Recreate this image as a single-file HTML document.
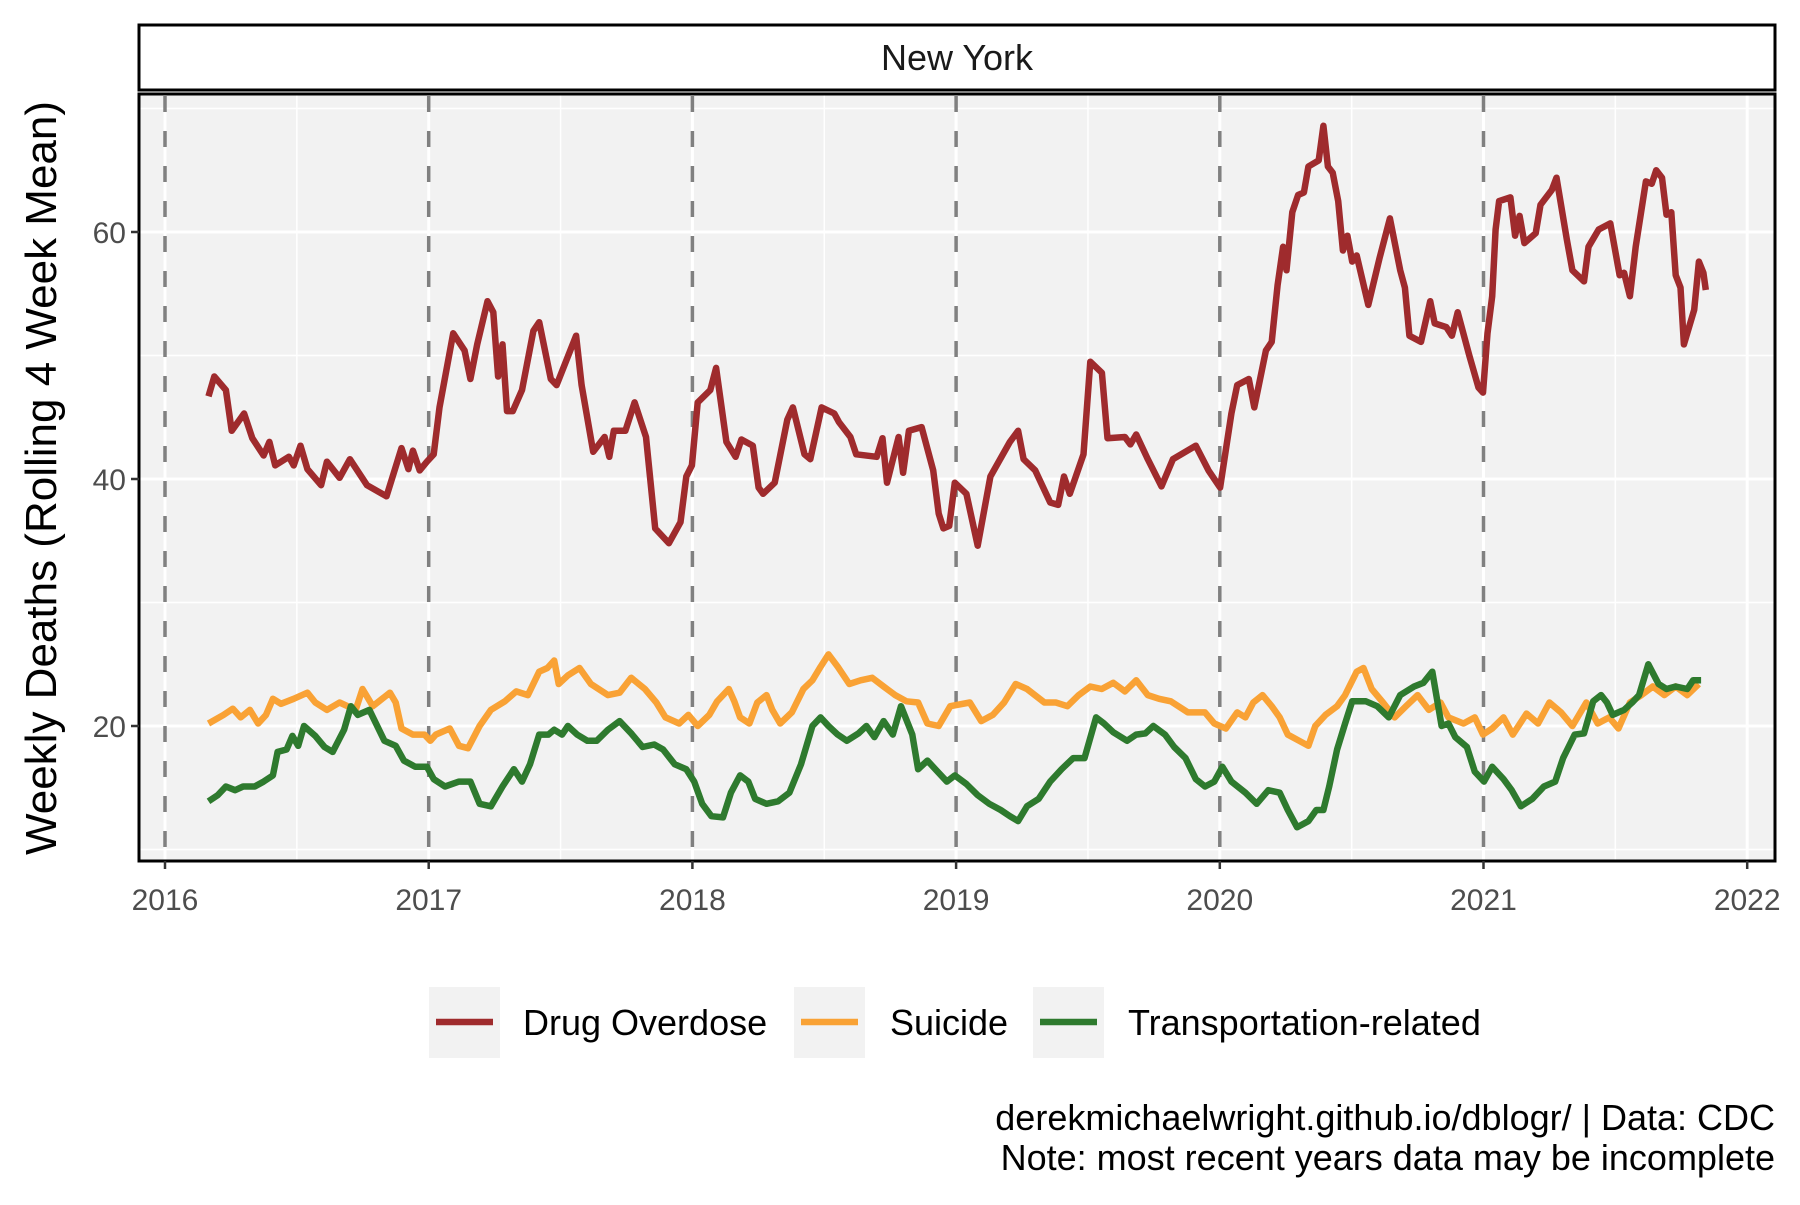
<!DOCTYPE html>
<html><head><meta charset="utf-8"><style>
html,body{margin:0;padding:0;background:#fff;}
svg text{font-family:"Liberation Sans",Arial,sans-serif;}
</style></head><body>
<svg id="chart" width="1800" height="1200" viewBox="0 0 1800 1200" xmlns="http://www.w3.org/2000/svg">
<rect width="1800" height="1200" fill="#fff"/>
<rect x="139" y="25" width="1636" height="65" fill="#fff" stroke="#000" stroke-width="3"/>
<text x="957" y="70" font-size="36" text-anchor="middle" fill="#1a1a1a">New York</text>
<rect x="139" y="94" width="1636" height="767" fill="#f2f2f2"/>
<g id="grid"></g>
<g id="vlines"></g>
<g id="series"></g>
<rect x="139" y="94" width="1636" height="767" fill="none" stroke="#000" stroke-width="3"/>
<g id="axes"></g>
<text transform="translate(56,478) rotate(-90)" font-size="44" text-anchor="middle" fill="#000">Weekly Deaths (Rolling 4 Week Mean)</text>
<g id="legend"></g>
<text x="1775" y="1130" font-size="36" text-anchor="end" fill="#000">derekmichaelwright.github.io/dblogr/ | Data: CDC</text>
<text x="1775" y="1170" font-size="36" text-anchor="end" fill="#000">Note: most recent years data may be incomplete</text>
</svg>
<script>
const xTicks=[2016,2017,2018,2019,2020,2021,2022];
const yTicks=[20,40,60];
const yMinor=[10,30,50,70];
const vlineYears=[2016,2017,2018,2019,2020,2021];
const seriesNames=["Drug Overdose","Suicide","Transportation-related"];
const seriesColors=["#9f2b2d","#f9a235","#2e7a2e"];
// dates as years since 2016
const drugT=[.165,.187,.231,.253,.300,.331,.374,.396,.418,.470,.488,.514,.540,.592,.614,.662,.701,.766,.840,.897,.923,.940,.966,.993,1.019,1.041,1.093,1.136,1.158,1.184,1.223,1.245,1.263,1.280,1.297,1.319,1.354,1.397,1.419,1.463,1.485,1.559,1.580,1.624,1.667,1.685,1.702,1.746,1.781,1.824,1.859,1.911,1.955,1.977,1.998,2.020,2.068,2.090,2.129,2.164,2.186,2.229,2.251,2.268,2.312,2.360,2.381,2.425,2.447,2.490,2.538,2.556,2.599,2.621,2.699,2.721,2.738,2.782,2.799,2.821,2.869,2.913,2.934,2.952,2.974,2.995,3.039,3.082,3.130,3.204,3.235,3.256,3.300,3.357,3.387,3.409,3.431,3.483,3.509,3.553,3.574,3.640,3.661,3.683,3.727,3.779,3.822,3.909,3.957,4.001,4.044,4.066,4.110,4.131,4.175,4.197,4.219,4.240,4.253,4.275,4.297,4.319,4.336,4.375,4.393,4.410,4.428,4.449,4.467,4.484,4.502,4.519,4.563,4.606,4.645,4.684,4.702,4.719,4.763,4.798,4.815,4.859,4.880,4.902,4.946,4.981,4.998,5.015,5.033,5.046,5.059,5.102,5.120,5.137,5.155,5.198,5.216,5.259,5.277,5.316,5.337,5.381,5.398,5.437,5.481,5.516,5.533,5.555,5.577,5.616,5.638,5.655,5.677,5.694,5.712,5.729,5.747,5.760,5.799,5.817,5.834,5.843];
const drugV=[46.7,48.3,47.2,43.9,45.3,43.3,41.9,43.0,41.1,41.8,41.1,42.7,40.8,39.5,41.4,40.1,41.6,39.5,38.6,42.5,40.8,42.3,40.7,41.4,42.0,45.8,51.8,50.4,48.1,50.9,54.4,53.5,48.3,50.9,45.5,45.5,47.2,52.0,52.7,48.1,47.6,51.6,47.6,42.2,43.4,41.8,43.9,43.9,46.2,43.4,36.0,34.8,36.5,40.2,41.1,46.2,47.2,49.0,43.0,41.8,43.2,42.7,39.3,38.8,39.7,44.8,45.8,42.0,41.6,45.8,45.3,44.6,43.4,42.0,41.8,43.3,39.7,43.4,40.5,43.9,44.2,40.7,37.2,36.0,36.2,39.7,38.8,34.6,40.2,43.0,43.9,41.6,40.7,38.1,37.9,40.2,38.8,42.0,49.5,48.6,43.3,43.4,42.8,43.6,41.6,39.4,41.6,42.7,40.7,39.3,45.3,47.6,48.1,45.8,50.4,51.1,55.7,58.8,56.9,61.6,63.0,63.2,65.3,65.8,68.6,65.3,64.8,62.5,58.5,59.7,57.6,58.1,54.1,57.9,61.1,56.9,55.5,51.6,51.1,54.4,52.6,52.3,51.6,53.5,50.0,47.4,47.0,51.8,54.8,60.2,62.5,62.8,59.7,61.3,59.1,59.9,62.2,63.4,64.4,59.4,56.9,56.0,58.8,60.2,60.7,56.5,56.7,54.8,58.8,64.1,63.9,65.0,64.4,61.4,61.6,56.5,55.5,50.9,53.7,57.6,56.7,55.3];
const suicideT=[.165,.222,.257,.287,.322,.353,.383,.409,.440,.488,.540,.570,.614,.662,.723,.749,.788,.853,.875,.897,.940,.984,1.006,1.027,1.080,1.115,1.149,1.193,1.236,1.289,1.332,1.376,1.419,1.450,1.476,1.493,1.528,1.572,1.615,1.680,1.724,1.768,1.820,1.863,1.898,1.950,1.985,2.020,2.064,2.094,2.138,2.159,2.181,2.216,2.246,2.281,2.303,2.333,2.377,2.421,2.455,2.486,2.516,2.551,2.595,2.638,2.682,2.725,2.769,2.812,2.856,2.891,2.934,2.978,3.052,3.095,3.139,3.182,3.226,3.269,3.335,3.378,3.422,3.465,3.509,3.552,3.596,3.640,3.683,3.727,3.770,3.814,3.879,3.944,3.979,4.023,4.066,4.097,4.127,4.162,4.197,4.227,4.258,4.301,4.336,4.362,4.401,4.445,4.475,4.519,4.545,4.576,4.619,4.663,4.706,4.750,4.793,4.837,4.867,4.924,4.967,4.998,5.033,5.076,5.111,5.163,5.207,5.250,5.294,5.337,5.390,5.433,5.477,5.512,5.555,5.599,5.642,5.686,5.729,5.773,5.816];
const suicideV=[20.2,20.9,21.4,20.7,21.3,20.2,20.9,22.2,21.8,22.2,22.7,21.9,21.3,21.9,21.3,23.0,21.6,22.7,21.9,19.8,19.3,19.3,18.8,19.3,19.8,18.4,18.2,20.0,21.3,22.0,22.8,22.5,24.4,24.7,25.3,23.4,24.1,24.7,23.4,22.5,22.7,23.9,23.0,21.9,20.7,20.2,20.9,20.0,20.9,22.0,23.0,22.0,20.7,20.2,21.9,22.5,21.3,20.2,21.1,23.0,23.7,24.8,25.8,24.8,23.4,23.7,23.9,23.2,22.5,22.0,21.9,20.2,20.0,21.6,21.9,20.4,20.9,21.9,23.4,23.0,21.9,21.9,21.6,22.5,23.2,23.0,23.5,22.8,23.7,22.5,22.2,22.0,21.1,21.1,20.2,19.8,21.1,20.7,21.9,22.5,21.6,20.7,19.3,18.8,18.4,20.0,20.9,21.6,22.5,24.4,24.7,23.0,21.9,20.7,21.6,22.5,21.3,21.9,20.7,20.2,20.7,19.3,19.8,20.7,19.3,21.0,20.2,21.9,21.1,20.0,21.9,20.2,20.7,19.8,21.9,22.5,23.2,22.5,23.2,22.5,23.4];
const transT=[.165,.200,.231,.266,.296,.340,.374,.409,.427,.461,.483,.505,.527,.570,.605,.636,.679,.705,.731,.775,.832,.875,.906,.949,.993,1.019,1.062,1.115,1.158,1.193,1.236,1.280,1.323,1.354,1.384,1.419,1.454,1.476,1.506,1.528,1.563,1.602,1.637,1.680,1.724,1.768,1.811,1.855,1.889,1.933,1.977,2.007,2.037,2.072,2.116,2.146,2.181,2.212,2.238,2.281,2.325,2.368,2.412,2.455,2.486,2.516,2.551,2.586,2.630,2.660,2.690,2.725,2.760,2.791,2.834,2.856,2.891,2.921,2.965,2.995,3.039,3.082,3.126,3.169,3.204,3.235,3.269,3.313,3.357,3.400,3.444,3.487,3.531,3.561,3.596,3.648,3.683,3.718,3.748,3.792,3.827,3.870,3.909,3.944,3.979,4.010,4.044,4.097,4.140,4.184,4.227,4.258,4.293,4.336,4.366,4.393,4.415,4.445,4.475,4.502,4.554,4.597,4.641,4.684,4.737,4.772,4.806,4.841,4.867,4.893,4.937,4.967,5.002,5.033,5.076,5.107,5.142,5.185,5.229,5.272,5.302,5.346,5.381,5.416,5.446,5.468,5.490,5.533,5.564,5.590,5.625,5.664,5.694,5.729,5.773,5.795,5.825];
const transV=[13.9,14.4,15.1,14.8,15.1,15.1,15.5,16.0,17.9,18.1,19.2,18.4,20.0,19.2,18.3,17.9,19.7,21.6,20.9,21.3,18.8,18.4,17.2,16.7,16.7,15.7,15.1,15.5,15.5,13.7,13.5,15.1,16.5,15.5,16.9,19.3,19.3,19.7,19.3,20.0,19.3,18.8,18.8,19.7,20.4,19.4,18.3,18.5,18.1,16.9,16.5,15.5,13.7,12.7,12.6,14.6,16.0,15.5,14.1,13.7,13.9,14.6,16.9,20.0,20.7,20.0,19.3,18.8,19.4,20.0,19.1,20.4,19.3,21.6,19.3,16.5,17.2,16.5,15.5,16.0,15.3,14.4,13.7,13.2,12.7,12.3,13.5,14.1,15.5,16.5,17.4,17.4,20.7,20.2,19.5,18.8,19.3,19.4,20.0,19.3,18.3,17.4,15.7,15.1,15.5,16.7,15.5,14.6,13.7,14.8,14.6,13.2,11.8,12.3,13.2,13.2,15.1,18.1,20.2,22.0,22.0,21.6,20.7,22.5,23.2,23.5,24.4,20.0,20.2,19.1,18.3,16.3,15.5,16.7,15.7,14.8,13.5,14.1,15.1,15.5,17.4,19.3,19.4,22.0,22.5,21.9,20.9,21.3,21.9,22.5,25.0,23.4,23.0,23.2,23.0,23.7,23.7];

const NS="http://www.w3.org/2000/svg";
const X0=139,X1=1775,Y0=94,Y1=861;
const xScale=yr=>165+(yr-2016)*263.7;
const xOff=t=>xScale(2016+t);
const yScale=v=>726-(v-20)*12.35;
function mk(tag,attrs,parent){const e=document.createElementNS(NS,tag);for(const k in attrs)e.setAttribute(k,attrs[k]);parent.appendChild(e);return e;}
const grid=document.getElementById('grid');
yMinor.forEach(v=>{const l=mk('line',{x1:X0,x2:X1,y1:yScale(v),y2:yScale(v),stroke:'#fff','stroke-width':1.5},grid);

});
xTicks.slice(0,-1).forEach(yr=>{const l=mk('line',{x1:xScale(yr+0.5),x2:xScale(yr+0.5),y1:Y0,y2:Y1,stroke:'#fff','stroke-width':1.5},grid);

});
yTicks.forEach(v=>{const l=mk('line',{x1:X0,x2:X1,y1:yScale(v),y2:yScale(v),stroke:'#fff','stroke-width':3},grid);

});
xTicks.forEach(yr=>{const l=mk('line',{x1:xScale(yr),x2:xScale(yr),y1:Y0,y2:Y1,stroke:'#fff','stroke-width':3},grid);

});
const vl=document.getElementById('vlines');
vlineYears.forEach(yr=>{const l=mk('line',{x1:xScale(yr),x2:xScale(yr),y1:Y0+2,y2:Y1,stroke:'#808080','stroke-width':3.5,'stroke-dasharray':'16 19'},vl);

});
const ser=document.getElementById('series');
[[drugT,drugV],[suicideT,suicideV],[transT,transV]].forEach((d,i)=>{
 const pts=d[0].map((t,j)=>xOff(t).toFixed(1)+','+yScale(d[1][j]).toFixed(1)).join(' ');
 const p=mk('polyline',{points:pts,fill:'none',stroke:seriesColors[i],'stroke-width':6.5,'stroke-linejoin':'round','stroke-linecap':'butt'},ser);
 
 
});
const ax=document.getElementById('axes');
xTicks.forEach(yr=>{const x=xScale(yr);
 const t=mk('line',{x1:x,x2:x,y1:Y1,y2:Y1+8,stroke:'#333','stroke-width':2.5},ax);
 
 
 const lb=mk('text',{x:x,y:910,'font-size':30,'text-anchor':'middle',fill:'#4d4d4d'},ax);lb.textContent=yr;
 
 });
yTicks.forEach(v=>{const y=yScale(v);
 const t=mk('line',{x1:X0-8,x2:X0,y1:y,y2:y,stroke:'#333','stroke-width':2.5},ax);
 
 
 const lb=mk('text',{x:X0-13,y:y+11,'font-size':30,'text-anchor':'end',fill:'#4d4d4d'},ax);lb.textContent=v;
 
 });
const lg=document.getElementById('legend');
const keyX=[429,794,1033],txtX=[523,890,1128];
seriesNames.forEach((n,i)=>{
 const g=mk('g',{},lg);
 
 
 mk('rect',{x:keyX[i],y:987,width:71,height:71,fill:'#f2f2f2'},g);
 mk('line',{x1:keyX[i]+7,x2:keyX[i]+64,y1:1022,y2:1022,stroke:seriesColors[i],'stroke-width':6.5},g);
 const t=mk('text',{x:txtX[i],y:1035,'font-size':36,fill:'#000'},g);t.textContent=n;
});
</script>
</body></html>
